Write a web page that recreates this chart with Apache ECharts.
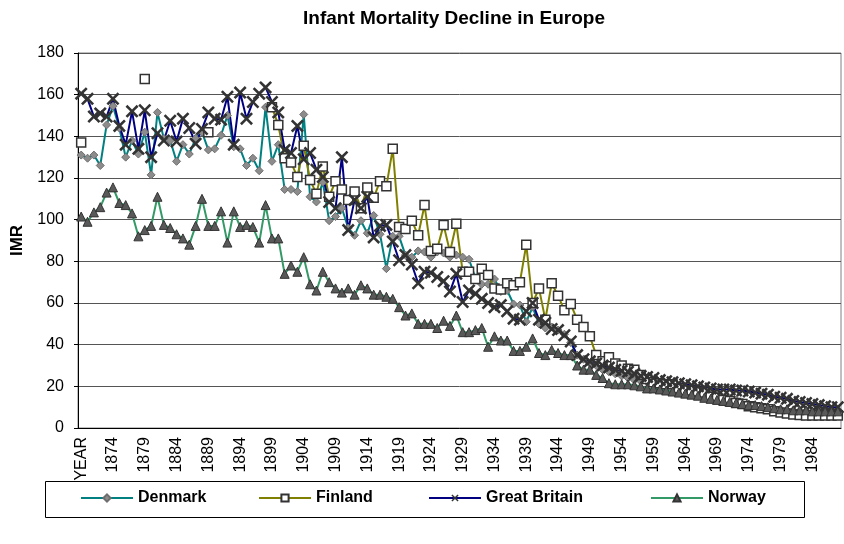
<!DOCTYPE html>
<html>
<head>
<meta charset="utf-8">
<title>Infant Mortality Decline in Europe</title>
<script src="https://cdn.jsdelivr.net/npm/echarts@6/dist/echarts.min.js"></script>
</head>
<body style="margin:0">
<div id="chart" style="width:844px;height:544px;"></div>
<script>
// categories: first row is the header cell "YEAR", then one per year
var years = ['YEAR'];
for (var y = 1870; y <= 1988; y++) years.push(String(y));

var denmark = [131,129.5,131,126,145.5,154.5,144,130,138,131.5,
    142,121.5,151.5,139,138,128,136,131.5,139,142,
    133.5,134,140.5,150,135,134,126,129.5,123.5,154,
    128,136,114.5,114.5,113.5,150.5,111,108.5,118,99.5,
    101.5,105.5,96,92.5,99.5,93.5,102,93,76.5,92,
    92,83,82,85,84.5,82,84.5,84,82,83,
    82,81,72,69,69,71.5,65.5,66,59.5,59,
    51,58,50,48,48.5,47,45,41,35,33,
    31,30,28,27,26,25,24,23,22.5,22,
    21.5,21,21.5,20.5,19.5,18.5,18.5,17.5,17,16.5,
    15.5,14.5,14,13.5,12.5,11.5,11,10.5,10,9.5,
    9,8.5,8.5,8.2,8,8,8,8,7.8,7.8];

var finland = [137,null,null,null,null,null,null,null,null,null,
    167.5,null,null,null,null,null,null,null,null,null,
    142,null,null,null,null,null,null,null,null,null,
    154,145.5,129.5,127.5,120.5,135.5,119,112.5,125.5,111,
    118.5,114.5,109.5,113.5,105.5,115.5,110.5,118.5,116,134,
    96.5,95.5,99.5,92.5,107,85,86,97.5,84.5,98,
    75,75,71.5,76.5,73.5,67,66.5,69.5,68.5,70,
    88,60,67,52,69.5,63.5,56.5,59.5,52,48.5,
    44,35,32,34,31,30,28.5,28,25.5,23.5,
    22,21.5,21,21,19,18,18,17.5,17,15,
    14.5,13.5,13,12,11.5,10.5,10,9.5,9,8,
    7.5,7,6.5,6.2,6,6,6,6,6,6];

var britain = [160.5,158,149.5,151,149.5,158,145,136,152,134,
    152.5,130,141.5,138,147.5,137.5,148.5,144,136.5,143.5,
    151.5,148.5,148,159,136,161,148.5,156.5,160.5,163.5,
    156.5,151.5,133.5,132,145,129,132,124,120.5,108.5,
    105.5,130,95,109.5,105.5,111,91.5,97,97.5,89.5,
    80.5,83,78.5,69.5,75,74.5,72.5,70.5,65.5,74,
    60.5,66,64.5,62,60,58,59,56,52.5,52,
    56,60,52,50.5,47.5,47,44.5,41.5,35,33,
    32,31,30,29,28,27.5,27,26,25,24.5,
    24,23,22.5,22,21.5,21,20.5,20,19.5,19,
    18.5,18.5,18.5,18,18,17.5,17,16.5,16,15,
    14.5,14,13,12.5,12,11.5,11,10.5,10,10];

var norway = [101.5,99,103.5,106,113,115.5,108,107,103,92,
    95,97,111,97.5,96,93,91,88,97,110,
    97,97,104,89,104,96.5,97.5,96.5,89,107,
    91,91,74,78,75,82,69,66,75,70,
    67,65,67,64,68.5,67,64,64,63,62,
    58,54,55,50,50,50,48,51.5,49,54,
    46,46,47,48,39,44,42,42,37,37,
    39,43,36,35,37.5,36,35,35,30,28,
    28,25.5,24,21.5,21,21,21,20.5,20,19,
    19,18.5,18,17.5,17,16.5,16,15.5,14.5,14,
    13.5,13,12.5,12,11.5,11,11,10.5,10,9.5,
    9,9,8.5,8.5,8.5,8,8,8,8,8];

var yTicks = [0, 20, 40, 60, 80, 100, 120, 140, 160, 180];
var names = ['Denmark', 'Finland', 'Great Britain', 'Norway'];
var legendLeft = [80, 258, 428, 650];

var font = "'Liberation Sans', Arial, sans-serif";
var crossPath = 'path://M0,1.4 L1.4,0 L5,3.6 L8.6,0 L10,1.4 L6.4,5 L10,8.6 L8.6,10 L5,6.4 L1.4,10 L0,8.6 L3.6,5 Z';

var legends = [];
for (var i = 0; i < names.length; i++) {
    legends.push({
        left: legendLeft[i],
        top: 490,
        padding: 0,
        itemWidth: 52,
        itemHeight: 9,
        textStyle: {fontFamily: font, fontSize: 16, fontWeight: 'bold', color: '#000'},
        data: [names[i]]
    });
}

var myChart = echarts.init(document.getElementById('chart'));
var option = {
    animation: false,
    backgroundColor: '#fff',
    title: {
        text: 'Infant Mortality Decline in Europe',
        left: 449,
        textAlign: 'center',
        top: 4,
        textStyle: {fontFamily: font, fontSize: 19, fontWeight: 'bold', color: '#000'}
    },
    legend: legends,
    graphic: [{
        type: 'rect',
        shape: {x: 45.5, y: 481.5, width: 759, height: 36},
        style: {fill: null, stroke: '#000', lineWidth: 1},
        silent: true
    }],
    grid: {
        left: 78, right: 3, top: 53, bottom: 116,
        show: true, borderColor: '#808080', borderWidth: 1
    },
    xAxis: {
        type: 'category',
        data: years,
        boundaryGap: true,
        axisLine: {lineStyle: {color: '#000', width: 1}},
        axisTick: {interval: 0, length: 4, lineStyle: {color: '#000'}},
        axisLabel: {interval: 4, rotate: 90, margin: 9, fontSize: 16, color: '#000', fontFamily: font}
    },
    yAxis: {
        type: 'value',
        min: yTicks[0],
        max: yTicks[yTicks.length - 1],
        interval: 20,
        name: 'IMR',
        nameLocation: 'middle',
        nameGap: 52,
        nameTextStyle: {fontFamily: font, fontSize: 17, fontWeight: 'bold', color: '#000'},
        axisLine: {show: true, lineStyle: {color: '#000', width: 1}},
        axisTick: {show: true, length: 4, lineStyle: {color: '#000'}},
        axisLabel: {margin: 14, fontSize: 16, color: '#000', fontFamily: font},
        splitLine: {lineStyle: {color: '#555', width: 1}}
    },
    series: [{
        name: names[0],
        type: 'line',
        data: denmark,
        showAllSymbol: true,
        symbol: 'diamond',
        symbolSize: 8,
        lineStyle: {color: '#008080', width: 2},
        itemStyle: {color: '#8c8c8c', borderColor: '#6e6e6e', borderWidth: 1}
    }, {
        name: names[1],
        type: 'line',
        data: finland,
        connectNulls: false,
        showAllSymbol: true,
        symbol: 'rect',
        symbolSize: 9,
        lineStyle: {color: '#808000', width: 2},
        itemStyle: {color: '#fff', borderColor: '#333', borderWidth: 1.5}
    }, {
        name: names[2],
        type: 'line',
        data: britain,
        showAllSymbol: true,
        symbol: crossPath,
        symbolSize: 13,
        lineStyle: {color: '#000080', width: 2},
        itemStyle: {color: '#333'}
    }, {
        name: names[3],
        type: 'line',
        data: norway,
        showAllSymbol: true,
        symbol: 'triangle',
        symbolSize: 9,
        lineStyle: {color: '#339966', width: 2},
        itemStyle: {color: '#595959', borderColor: '#333', borderWidth: 1}
    }]
};
myChart.setOption(option);
</script>
</body>
</html>
